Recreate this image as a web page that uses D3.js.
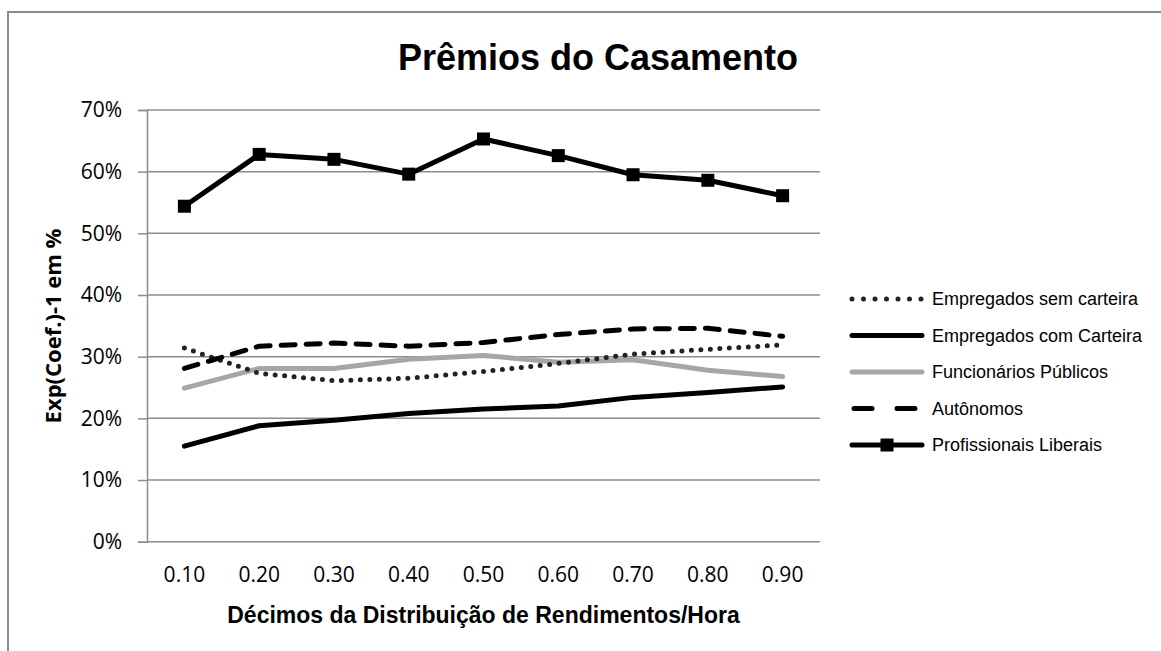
<!DOCTYPE html>
<html>
<head>
<meta charset="utf-8">
<script src="https://cdn.jsdelivr.net/npm/d3@7"></script>
<style>
  body { margin: 0; background: #fff; }
  svg { display: block; }
</style>
</head>
<body>
<div id="chart"></div>
<script>
var w = 1161
var h = 651

var categories = ["0.10", "0.20", "0.30", "0.40", "0.50", "0.60", "0.70", "0.80", "0.90"];
var yTicks = [0, 10, 20, 30, 40, 50, 60, 70];

var semCarteira    = [31.4, 27.3, 26.1, 26.5, 27.6, 28.9, 30.4, 31.2, 31.9];
var comCarteira    = [15.5, 18.8, 19.7, 20.8, 21.5, 22.0, 23.4, 24.2, 25.1];
var funcionarios   = [24.9, 28.1, 28.1, 29.6, 30.2, 29.1, 29.5, 27.8, 26.8];
var autonomos      = [28.1, 31.7, 32.2, 31.7, 32.3, 33.6, 34.5, 34.6, 33.3];
var profissionais  = [54.4, 62.8, 62.0, 59.6, 65.3, 62.6, 59.5, 58.6, 56.1];

var seriesNames = ["Empregados sem carteira", "Empregados com Carteira", "Funcionários Públicos", "Autônomos", "Profissionais Liberais"];

var series = [
  { name: seriesNames[0], values: semCarteira,   color: "#222222", dash: "0,9.5", marker: false },
  { name: seriesNames[1], values: comCarteira,   color: "#000000", dash: null,    marker: false },
  { name: seriesNames[2], values: funcionarios,  color: "#a6a6a6", dash: null,    marker: false },
  { name: seriesNames[3], values: autonomos,     color: "#000000", dash: "14,11", marker: false },
  { name: seriesNames[4], values: profissionais, color: "#000000", dash: null,    marker: true }
];

var svg = d3.select("#chart").append("svg")
    .attr("width", w)
    .attr("height", h);

// chart border
svg.append("rect")
    .attr("x", 8).attr("y", 12)
    .attr("width", 1170).attr("height", 660)
    .attr("fill", "none")
    .attr("stroke", "#8c8c8c")
    .attr("stroke-width", 2);

var plotLeft = 147, plotRight = 820, plotTop = 110, plotBottom = 541.7;

var x = d3.scaleBand().domain(categories).range([plotLeft, plotRight]);
var y = d3.scaleLinear().domain([0, 70]).range([plotBottom, plotTop]);

// gridlines
svg.selectAll("line.grid").data(yTicks).enter()
  .append("line")
    .attr("class", "grid")
    .attr("x1", plotLeft).attr("x2", plotRight)
    .attr("y1", function(d) { return y(d); })
    .attr("y2", function(d) { return y(d); })
    .attr("stroke", "#8c8c8c")
    .attr("stroke-width", 1.5);

// y axis
var yAxis = svg.append("g")
    .attr("transform", "translate(" + plotLeft + ",0)")
    .call(d3.axisLeft(y).tickValues(yTicks).tickSize(9).tickPadding(16)
          .tickFormat(function(d) { return d + "%"; }));
yAxis.select(".domain").attr("stroke", "#8c8c8c").attr("stroke-width", 1.5);
yAxis.selectAll(".tick line").attr("stroke", "#8c8c8c").attr("stroke-width", 1.5);
yAxis.selectAll(".tick text")
    .style("font-family", "'Open Sans', sans-serif")
    .style("font-size", "21px")
    .attr("fill", "#000");

// x axis labels
var xAxis = svg.append("g")
    .attr("transform", "translate(0," + plotBottom + ")")
    .call(d3.axisBottom(x).tickSize(0).tickPadding(25));
xAxis.select(".domain").remove();
xAxis.selectAll(".tick text")
    .style("font-family", "'Open Sans', sans-serif")
    .style("font-size", "21px")
    .attr("fill", "#000");

// lines
var line = d3.line()
    .x(function(d, i) { return x(categories[i]) + x.bandwidth() / 2; })
    .y(function(d) { return y(d); });

var order = [2, 0, 1, 3, 4];
order.forEach(function(k) {
  var s = series[k];
  svg.append("path")
      .datum(s.values)
      .attr("fill", "none")
      .attr("stroke", s.color)
      .attr("stroke-width", 5)
      .attr("stroke-linecap", "round")
      .attr("stroke-linejoin", "round")
      .attr("stroke-dasharray", s.dash)
      .attr("d", line);
  if (s.marker) {
    svg.selectAll("rect.mk").data(s.values).enter()
      .append("rect")
        .attr("class", "mk")
        .attr("x", function(d, i) { return x(categories[i]) + x.bandwidth() / 2 - 6.5; })
        .attr("y", function(d) { return y(d) - 6.5; })
        .attr("width", 13).attr("height", 13)
        .attr("fill", "#000");
  }
});

// title
svg.append("text")
    .attr("x", 598).attr("y", 70)
    .attr("text-anchor", "middle")
    .style("font-family", "'Liberation Sans', Arial, sans-serif")
    .style("font-weight", "bold")
    .style("font-size", "36px")
    .text("Prêmios do Casamento");

// axis titles
svg.append("text")
    .attr("x", (plotLeft + plotRight) / 2).attr("y", 623)
    .attr("text-anchor", "middle")
    .style("font-family", "'Liberation Sans', Arial, sans-serif")
    .style("font-weight", "bold")
    .style("font-size", "23px")
    .text("Décimos da Distribuição de Rendimentos/Hora");

svg.append("text")
    .attr("transform", "translate(61,326) rotate(-90)")
    .attr("text-anchor", "middle")
    .style("font-family", "'Open Sans', sans-serif")
    .style("font-weight", "bold")
    .style("font-size", "22px")
    .text("Exp(Coef.)-1 em %");

// legend
var lg = svg.selectAll("g.legend").data(series).enter()
  .append("g")
    .attr("class", "legend")
    .attr("transform", function(d, i) { return "translate(852," + (299 + i * 36.5) + ")"; });

lg.append("line")
    .attr("x1", function(d) { return d.dash === "14,11" ? 2 : 0; })
    .attr("x2", 70)
    .attr("stroke", function(d) { return d.color; })
    .attr("stroke-width", 5)
    .attr("stroke-linecap", "round")
    .attr("stroke-dasharray", function(d) {
      if (d.dash === "14,11") return "18,25";
      if (d.dash === "0,9.5") return "0,11.5";
      return null;
    });

lg.filter(function(d) { return d.marker; })
  .append("rect")
    .attr("x", 28.5).attr("y", -6.5)
    .attr("width", 13).attr("height", 13)
    .attr("fill", "#000");

lg.append("text")
    .attr("x", 80).attr("dy", "0.35em")
    .style("font-family", "'Liberation Sans', Arial, sans-serif")
    .style("font-size", "18px")
    .text(function(d) { return d.name; });
</script>
</body>
</html>
